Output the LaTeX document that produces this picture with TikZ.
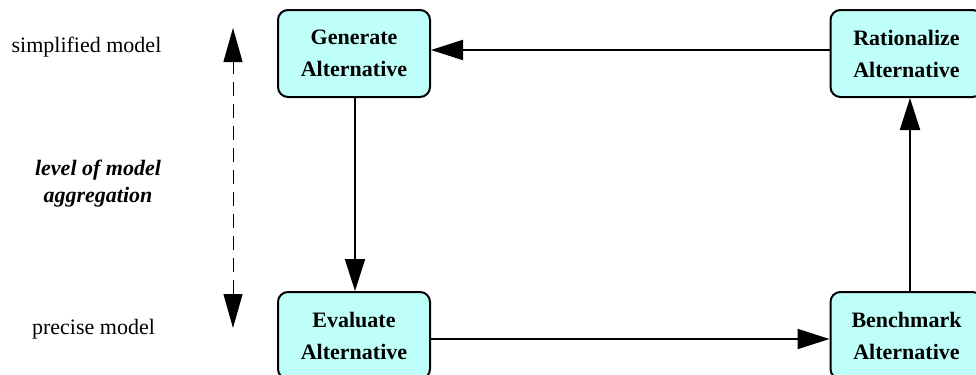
\documentclass[tikz,border=0pt]{standalone}
\usepackage{fontspec}
\setmainfont{Liberation Serif}
\usepackage{tikz}
\usetikzlibrary{arrows.meta}
\definecolor{boxcyan}{RGB}{190,255,250}

\tikzset{
  altbox/.style={draw, line width=1pt, rounded corners=5pt, fill=boxcyan,
    minimum width=76pt, minimum height=43.5pt, inner sep=0pt, align=center,
    font=\fontsize{11}{16}\selectfont\bfseries},
  conn/.style={line width=1pt, -{Triangle[length=16pt,width=10pt]}},
  sidelabel/.style={font=\fontsize{11}{13.5}\selectfont}
}

\begin{document}
\begin{tikzpicture}[x=0.5pt,y=-0.5pt]
\useasboundingbox (0,0) rectangle (976,375);

% Alternatives
\node[altbox] (gen) at (354,53.5) {Generate\\Alternative};
\node[altbox] (rat) at (906.5,53.5) {Rationalize\\Alternative};
\node[altbox] (eva) at (354,335.5) {Evaluate\\Alternative};
\node[altbox] (ben) at (906.5,335.5) {Benchmark\\Alternative};

% Cycle
\draw[conn] ([yshift=1.75pt]rat.west) -- ([yshift=1.75pt]gen.east);
\draw[conn] ([xshift=0.5pt]gen.south) -- ([xshift=0.5pt]eva.north);
\draw[conn] ([yshift=-1.75pt]eva.east) -- ([yshift=-1.75pt]ben.west);
\draw[conn] ([xshift=1.75pt]ben.north) -- ([xshift=1.75pt]rat.south);

% Aggregation scale
\coordinate (aggtop) at (233,28);
\coordinate (aggbot) at (233,328);
\draw[line width=0.5pt, dash pattern=on 7pt off 4pt,
  {Triangle[length=17pt,width=9.5pt]}-{Triangle[length=17pt,width=9.5pt]}] (aggbot) -- (aggtop);

% Labels
\node[sidelabel, anchor=base] (simp) at (86.5,53) {simplified model};
\node[sidelabel, anchor=base] (prec) at (93.5,334) {precise model};
\node[sidelabel, align=center, font=\fontsize{11}{13.5}\selectfont\bfseries\itshape] (lvl) at (98,184) {level of model\\aggregation};
\end{tikzpicture}
\end{document}
